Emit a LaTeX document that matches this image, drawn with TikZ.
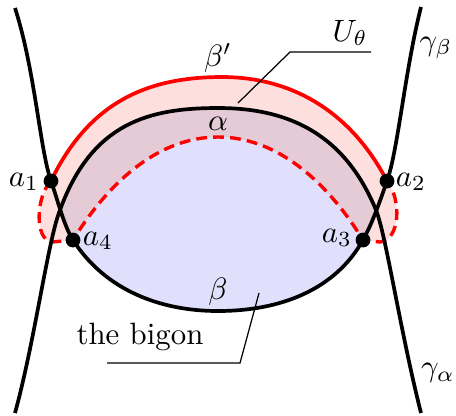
\documentclass[tikz,border=0pt]{standalone}
\usetikzlibrary{calc}
\definecolor{bigonblue}{RGB}{224,224,252}
\definecolor{nbhdpink}{RGB}{253,224,222}
\definecolor{overlap}{RGB}{229,203,214}

\begin{document}
\begin{tikzpicture}[
    x=0.0114cm, y=-0.0114cm,
    curve/.style={line width=1.2pt, black},
    redcurve/.style={line width=1.2pt, red},
    reddash/.style={line width=1.1pt, red, dash pattern=on 3.5pt off 2pt},
    dot/.style={circle, fill=black, inner sep=0pt, minimum size=4.8pt},
    leader/.style={line width=0.4pt, black},
    lbl/.style={inner sep=1pt},
]
\useasboundingbox (0,0) rectangle (456,415);

% ====== Key points ======
\coordinate (a1) at (51,181);
\coordinate (a2) at (387,181);
\coordinate (a3) at (363,240);
\coordinate (a4) at (73,240);
\coordinate (x1) at (60,210);
\coordinate (x2) at (376,210);

% ====== Regions ======
\fill[nbhdpink] (a1) .. controls (90,100) and (150,77) .. (222,77)
    .. controls (290,77) and (350,110) .. (a2)
    .. controls (402,200) and (400,240) .. (380,242) -- (a3)
    .. controls (326,180) and (276,137) .. (218,137)
    .. controls (160,137) and (110,180) .. (a4) -- (52,242)
    .. controls (34,240) and (36,196) .. (a1) -- cycle;
\fill[bigonblue] (x1) .. controls (92,122) and (150,108) .. (218,108)
    .. controls (290,108) and (345,135) .. (x2) -- (a3)
    .. controls (335,290) and (280,311) .. (218,311)
    .. controls (160,311) and (105,290) .. (a4) -- cycle;
\fill[overlap] (x1) .. controls (92,122) and (150,108) .. (218,108)
    .. controls (290,108) and (345,135) .. (x2) -- (a3)
    .. controls (326,180) and (276,137) .. (218,137)
    .. controls (160,137) and (110,180) .. (a4) -- cycle;

% ====== Red curves ======
\draw[reddash] (a1) .. controls (36,196) and (34,240) .. (52,242) -- (a4)
    .. controls (110,180) and (160,137) .. (218,137)
    .. controls (276,137) and (326,180) .. (a3) -- (380,242)
    .. controls (400,240) and (402,200) .. (a2);
\draw[redcurve] (a1) .. controls (90,100) and (150,77) .. (222,77)
    .. controls (290,77) and (350,110) .. (a2);

% ====== Black curves ======
% gamma_beta
\draw[curve] (15,8) .. controls (35,70) and (40,150) .. (a1)
    .. controls (58,201) and (64,226) .. (a4)
    .. controls (105,290) and (160,311) .. (218,311)
    .. controls (280,311) and (335,290) .. (a3)
    .. controls (373,222) and (381,198) .. (a2)
    .. controls (398,150) and (405,70) .. (421,7);
% gamma_alpha
\draw[curve] (15,413) .. controls (35,340) and (48,240) .. (x1)
    .. controls (92,122) and (150,108) .. (218,108)
    .. controls (290,108) and (345,135) .. (x2)
    .. controls (386,235) and (400,330) .. (421,413);

% ====== Points ======
\node[dot] (p1) at (a1) {};
\node[dot] (p2) at (a2) {};
\node[dot] (p3) at (a3) {};
\node[dot] (p4) at (a4) {};
\node[lbl] (la1) at (24,182) {$a_1$};
\node[lbl] (la2) at (411,182) {$a_2$};
\node[lbl] (la3) at (337,238) {$a_3$};
\node[lbl] (la4) at (98,241) {$a_4$};

% ====== Labels ======
\node[lbl] (betap) at (218,58) {$\beta'$};
\node[lbl] (alpha) at (218,124) {$\alpha$};
\node[lbl] (beta) at (218,292) {$\beta$};
\node[lbl] (gb) at (436,48) {$\gamma_\beta$};
\node[lbl] (ga) at (438,373) {$\gamma_\alpha$};
\node[lbl] (Ut) at (350,33) {$U_\theta$};
\node[lbl] (bigon) at (140,337) {the bigon};

% ====== Leaders ======
\coordinate (uTip) at (238,103);
\coordinate (bTip) at (259,293);
\draw[leader] (uTip) -- (290,52) -- (371,52);
\draw[leader] (bTip) -- (240,363) -- (107,363);

\end{tikzpicture}
\end{document}
